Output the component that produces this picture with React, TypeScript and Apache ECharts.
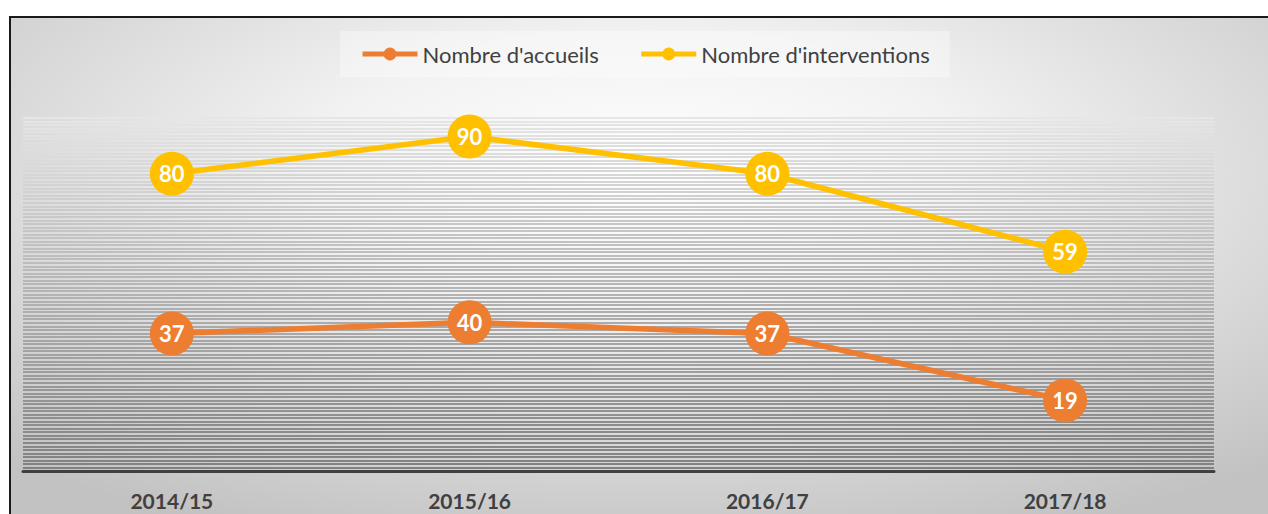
import React, { useEffect, useRef } from "react";
import * as echarts from "echarts";

const categories = ["2014/15", "2015/16", "2016/17", "2017/18"];
const accueils = [37, 40, 37, 19];
const interventions = [80, 90, 80, 59];
const seriesNames = ["Nombre d'accueils", "Nombre d'interventions"];

const FONT = "Lato, 'Noto Sans', sans-serif";

function stripeColors(n: number): string[] {
  const out: string[] = [];
  for (let i = 0; i <= n; i++) {
    const t = i / n; // 0 bottom -> 1 top
    const v = Math.round(0x80 + (0xe6 - 0x80) * t);
    const h = v.toString(16).padStart(2, "0");
    out.push("#" + h + h + h);
  }
  return out;
}

export default function App() {
  const ref = useRef<HTMLDivElement>(null);
  useEffect(() => {
    document.body.style.margin = "0";
    if (!ref.current) return;
    const chart = echarts.init(ref.current, undefined, { renderer: "svg" });
    chart.setOption({
      animation: false,
      graphic: [
        {
          type: "rect",
          z: -10,
          silent: true,
          shape: { x: 10, y: 17, width: 1268, height: 520 },
          style: {
            fill: {
              type: "radial",
              x: 0.5,
              y: 0.3,
              r: 0.75,
              colorStops: [
                { offset: 0, color: "#ffffff" },
                { offset: 0.35, color: "#f2f2f2" },
                { offset: 1, color: "#c2c2c2" },
              ],
            },
            stroke: "#1a1a1a",
            lineWidth: 2,
          },
        },
      ],
      legend: {
        top: 31,
        left: 340,
        padding: [12, 20, 12, 20],
        backgroundColor: "rgba(255,255,255,0.35)",
        itemWidth: 55,
        itemHeight: 16,
        itemGap: 40,
        lineStyle: { width: 5 },
        textStyle: { fontFamily: FONT, fontSize: 22, color: "#404040" },
        data: seriesNames,
      },
      grid: { left: 23, right: 54, top: 118, bottom: 43 },
      xAxis: {
        type: "category",
        data: categories,
        boundaryGap: true,
        axisLine: { show: true, lineStyle: { color: "#404040", width: 3 } },
        axisTick: { show: false },
        axisLabel: {
          margin: 19,
          fontFamily: FONT,
          fontSize: 21,
          fontWeight: "bold",
          color: "#404040",
        },
        z: 5,
      },
      yAxis: [
        {
          type: "value",
          min: 0,
          max: 95,
          show: false,
          splitLine: { show: false },
        },
        {
          type: "value",
          min: 0,
          max: 100,
          interval: 1,
          axisLabel: { show: false },
          axisLine: { show: false },
          axisTick: { show: false },
          splitLine: {
            show: true,
            lineStyle: { color: stripeColors(100), width: 2 },
          },
        },
      ],
      series: [
        {
          name: seriesNames[0],
          type: "line",
          data: accueils,
          yAxisIndex: 0,
          color: "#ED7D31",
          lineStyle: { width: 5.5, color: "#ED7D31" },
          symbol: "circle",
          symbolSize: 44,
          itemStyle: { color: "#ED7D31" },
          label: {
            show: true,
            position: "inside",
            color: "#ffffff",
            fontFamily: FONT,
            fontSize: 22,
            fontWeight: "bold",
          },
          z: 10,
        },
        {
          name: seriesNames[1],
          type: "line",
          data: interventions,
          yAxisIndex: 0,
          color: "#FFC000",
          lineStyle: { width: 5.5, color: "#FFC000" },
          symbol: "circle",
          symbolSize: 44,
          itemStyle: { color: "#FFC000" },
          label: {
            show: true,
            position: "inside",
            color: "#ffffff",
            fontFamily: FONT,
            fontSize: 22,
            fontWeight: "bold",
          },
          z: 10,
        },
      ],
    });
    return () => chart.dispose();
  }, []);
  return <div ref={ref} style={{ width: 1268, height: 514 }} />;
}
